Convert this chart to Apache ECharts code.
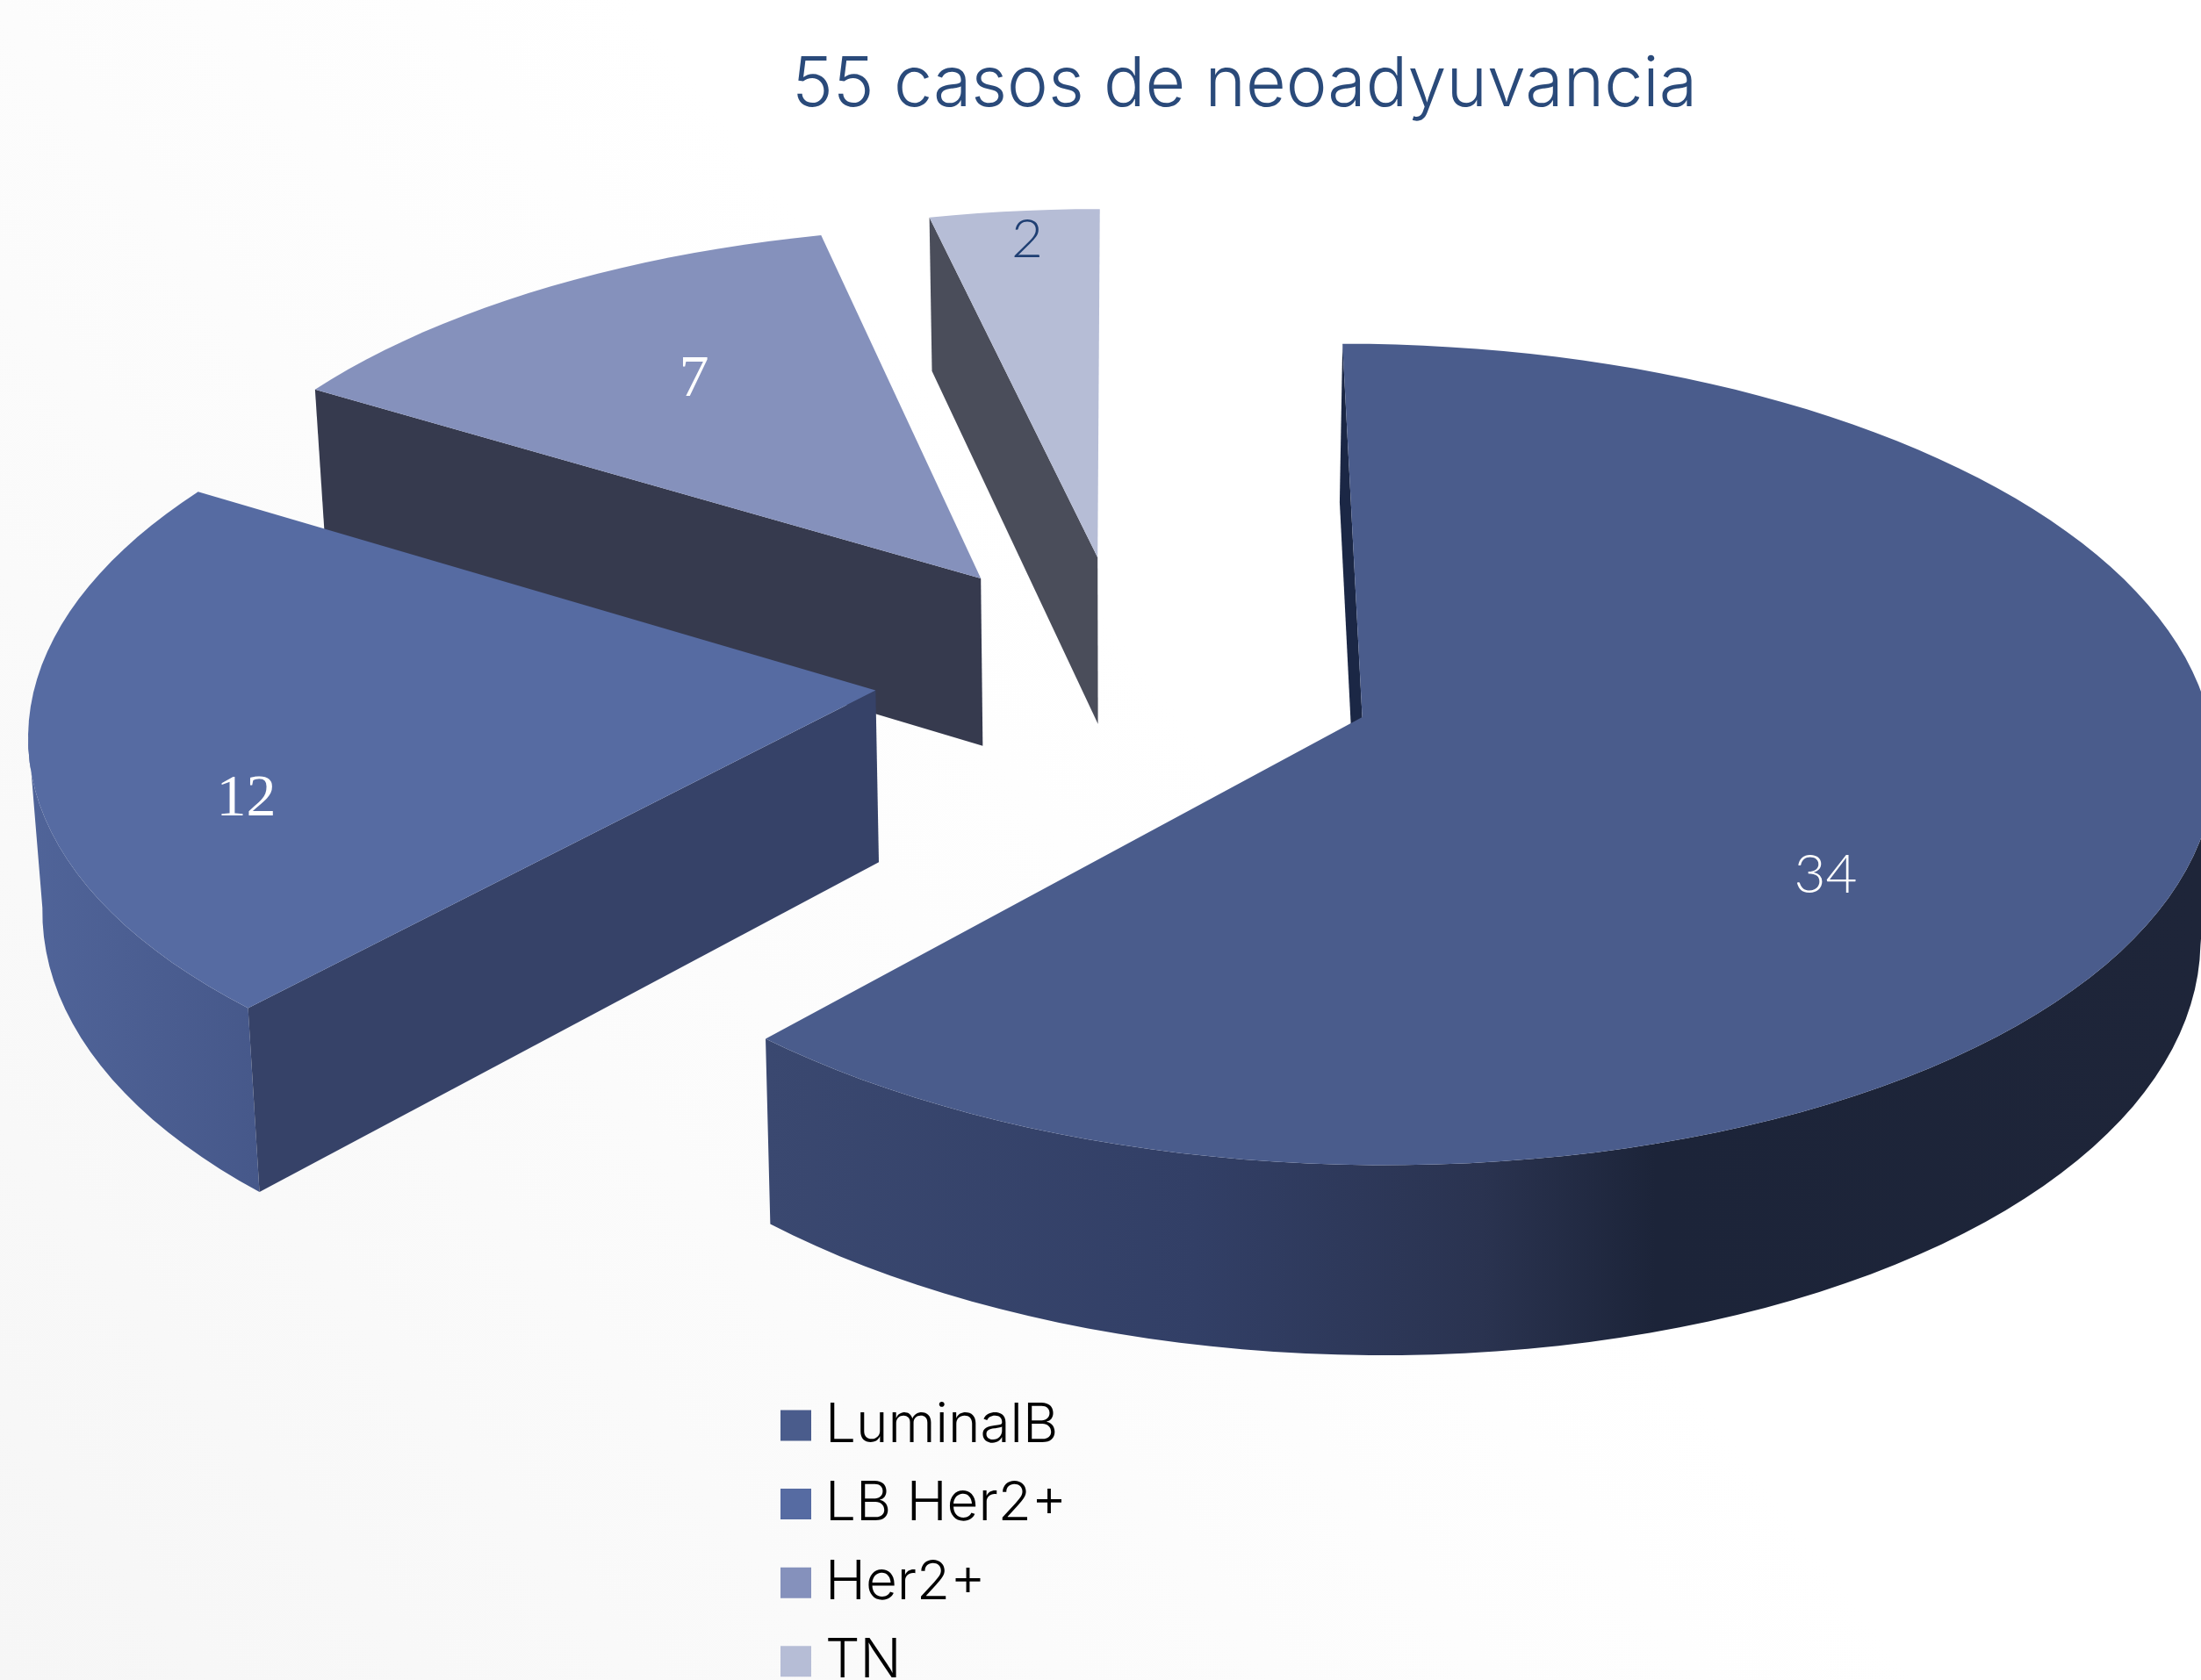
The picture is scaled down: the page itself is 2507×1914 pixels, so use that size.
<!DOCTYPE html>
<html>
<head>
<meta charset="utf-8">
<title>55 casos de neoadyuvancia</title>
<script src="https://cdn.jsdelivr.net/npm/echarts@6/dist/echarts.min.js"></script>
<style>
  html, body { margin: 0; padding: 0; overflow: hidden; }
  #chart { width: 2507px; height: 1914px; }
</style>
</head>
<body>
<div id="chart"></div>
<script>
  const categories = ['LuminalB', 'LB Her2+', 'Her2+', 'TN']
  const casos = [34, 12, 7, 2]

  const topColors = ['#4a5c8c', '#566ba2', '#8591bc', '#b6bdd6']
  const wallColors = ['#1b2745', '#364268', '#363a4e', '#4a4d5a']
  const labelColors = ['#ffffff', '#ffffff', '#ffffff', '#1f3f73']
  const labelFonts = ['Lato', 'Liberation Serif', 'Liberation Serif', 'Lato']
  // label placement on the slice: angle from slice middle (deg), share of radius
  const labelShift = [[14.5, 0.64], [-12, 0.77], [1.4, 0.66], [0.5, 0.91]]

  // fake 3D camera for the pie, no 3D pie in plain echarts
  const CX = 1282, CY = 767
  const RX = 955, RY = 455
  const PERSP = 0.09
  const DEPTH = 195
  const FLOOR_SCALE = 0.987
  const EXPLODE = 0.3

  const total = casos.reduce((a, b) => a + b, 0)
  const toRad = d => d * Math.PI / 180

  const project = (u, v, low) => {
    const w = 1 - PERSP * v
    let x = CX + RX * u / w
    let y = CY + RY * v / w
    if (low) {
      x = CX + (x - CX) * FLOOR_SCALE
      y += DEPTH / w
    }
    return [x, y]
  }

  const rimGradient = (i) => {
    if (i === 0) {
      return new echarts.graphic.LinearGradient(872, 0, 2507, 0, [
        { offset: 0, color: '#3a4870' },
        { offset: 0.3, color: '#323f66' },
        { offset: 0.5, color: '#2a3350' },
        { offset: 0.62, color: '#1c2439' },
        { offset: 1, color: '#1e2539' }
      ], true)
    }
    return new echarts.graphic.LinearGradient(30, 0, 295, 0, [
      { offset: 0, color: '#506499' },
      { offset: 1, color: '#46588a' }
    ], true)
  }

  const renderSlice = (i) => (params, api) => {
    const before = casos.slice(0, i).reduce((a, b) => a + b, 0)
    const start = before / total * 360
    const end = (before + api.value(0)) / total * 360
    const mid = (start + end) / 2

    const ax = EXPLODE * Math.sin(toRad(mid))
    const ay = -EXPLODE * Math.cos(toRad(mid))
    const rim = a => [ax + Math.sin(toRad(a)), ay - Math.cos(toRad(a))]

    const steps = Math.ceil((end - start) / 2)
    const arc = []
    for (let s = 0; s <= steps; s++) {
      arc.push(rim(start + (end - start) * s / steps))
    }
    const topArc = arc.map(p => project(p[0], p[1]))

    // the rim is only seen between its rightmost and leftmost points
    const xs = topArc.map(p => p[0])
    const right = xs.indexOf(Math.max(...xs))
    const left = xs.indexOf(Math.min(...xs))

    const children = []
    if (right < left) {
      const front = arc.slice(right, left + 1)
      const frontTop = front.map(p => project(p[0], p[1]))
      const frontLow = front.map(p => project(p[0], p[1], true))
      children.push({
        type: 'polygon',
        shape: { points: frontTop.concat(frontLow.reverse()) },
        style: { fill: rimGradient(i) }
      })
    }

    const s0 = rim(start)
    children.push({
      type: 'polygon',
      shape: {
        points: [
          project(ax, ay), project(s0[0], s0[1]),
          project(s0[0], s0[1], true), project(ax, ay, true)
        ]
      },
      style: { fill: wallColors[i] }
    })

    children.push({
      type: 'polygon',
      shape: { points: [project(ax, ay)].concat(topArc) },
      style: { fill: topColors[i] }
    })

    const la = toRad(mid + labelShift[i][0])
    const lp = project(ax + labelShift[i][1] * Math.sin(la), ay - labelShift[i][1] * Math.cos(la))
    children.push({
      type: 'text',
      style: {
        x: lp[0],
        y: lp[1],
        text: String(api.value(0)),
        fill: labelColors[i],
        font: (labelFonts[i] === 'Lato' ? '300 62px "' : '68px "') + labelFonts[i] + '"',
        textAlign: 'center',
        textVerticalAlign: 'middle'
      }
    })

    return { type: 'group', children }
  }

  const chart = echarts.init(document.getElementById('chart'))

  const option = {
    animation: false,
    backgroundColor: new echarts.graphic.LinearGradient(1, 0, 0, 1, [
      { offset: 0, color: '#ffffff' },
      { offset: 0.45, color: '#ffffff' },
      { offset: 1, color: '#f6f6f6' }
    ]),
    title: {
      text: '55 casos de neoadyuvancia',
      left: 902,
      top: 58,
      padding: 0,
      textStyle: {
        color: '#2a4a7a',
        fontFamily: 'Inter',
        fontWeight: 300,
        fontSize: 79
      }
    },
    legend: {
      data: categories,
      orient: 'vertical',
      left: 889,
      top: 1591,
      height: 400,
      padding: 0,
      itemWidth: 35,
      itemHeight: 35,
      itemGap: 23.6,
      icon: 'rect',
      selectedMode: false,
      textStyle: {
        color: '#000000',
        fontFamily: 'Inter',
        fontWeight: 300,
        fontSize: 62,
        lineHeight: 66,
        padding: [0, 0, 0, 11]
      }
    },
    series: categories.map((name, i) => ({
      type: 'custom',
      name,
      coordinateSystem: 'none',
      // back slices first, front ones paint over their walls
      z: categories.length - i,
      itemStyle: { color: topColors[i] },
      renderItem: renderSlice(i),
      data: [[casos[i]]]
    }))
  }

  chart.setOption(option)
</script>
</body>
</html>
